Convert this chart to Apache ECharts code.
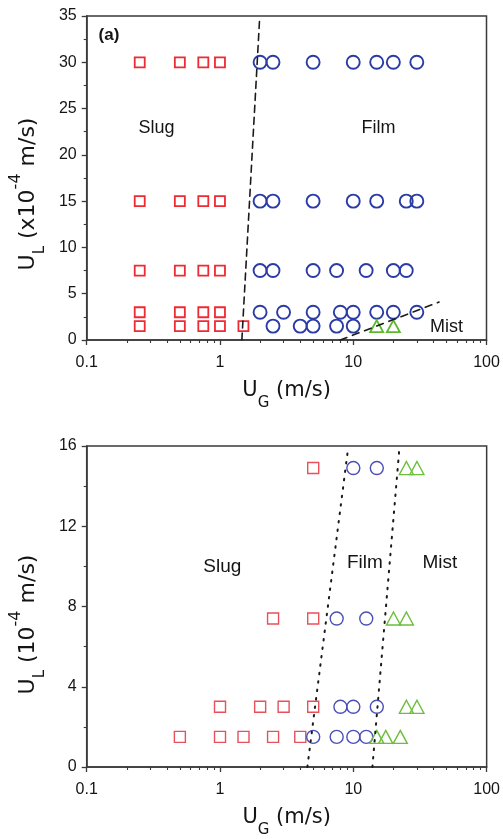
<!DOCTYPE html>
<html>
<head>
<meta charset="utf-8">
<script src="https://cdn.jsdelivr.net/npm/echarts@6/dist/echarts.min.js"></script>
<style>
html,body{margin:0;padding:0;background:#fff;}
#c{width:503px;height:839px;}
</style>
</head>
<body>
<div id="c"></div>
<script>
// ---------- data ----------
const xTickLabels = ['0.1', '1', '10', '100'];
const xMinorTicks = [0.2,0.3,0.4,0.5,0.6,0.7,0.8,0.9,2,3,4,5,6,7,8,9,20,30,40,50,60,70,80,90];

// panel (a)
const topSlug = [
  [0.25,30],[0.5,30],[0.75,30],[1,30],
  [0.25,15],[0.5,15],[0.75,15],[1,15],
  [0.25,7.5],[0.5,7.5],[0.75,7.5],[1,7.5],
  [0.25,3],[0.5,3],[0.75,3],[1,3],
  [0.25,1.5],[0.5,1.5],[0.75,1.5],[1,1.5],[1.5,1.5]
];
const topFilm = [
  [2,30],[2.5,30],[5,30],[10,30],[15,30],[20,30],[30,30],
  [2,15],[2.5,15],[5,15],[10,15],[15,15],[25,15],[30,15],
  [2,7.5],[2.5,7.5],[5,7.5],[7.5,7.5],[12.5,7.5],[20,7.5],[25,7.5],
  [2,3],[3,3],[5,3],[8,3],[10,3],[15,3],[20,3],[30,3],
  [2.5,1.5],[4,1.5],[5,1.5],[7.5,1.5],[10,1.5]
];
const topMist = [[15,1.5],[20,1.5]];
const topBoundarySlugFilm = [[1.46,0],[1.98,34.5]];
const topBoundaryFilmMist = [[8,0],[44,4.1]];
const topRegionLabels = [[0.334,22.9,'Slug'],[15.5,22.9,'Film'],[50,1.4,'Mist']];
const topPanelLabel = [[0.147,32.9,'(a)']];

// panel (b)
const botSlug = [
  [5,14.9],
  [2.5,7.4],[5,7.4],
  [1,3],[2,3],[3,3],[5,3],
  [0.5,1.5],[1,1.5],[1.5,1.5],[2.5,1.5],[4,1.5]
];
const botFilm = [
  [10,14.9],[15,14.9],
  [7.5,7.4],[12.5,7.4],
  [8,3],[10,3],[15,3],
  [5,1.5],[7.5,1.5],[10,1.5],[12.5,1.5]
];
const botMist = [
  [25,14.9],[30,14.9],
  [20,7.4],[25,7.4],
  [25,3],[30,3],
  [15,1.5],[17.5,1.5],[22.5,1.5]
];
const botBoundarySlugFilm = [[4.52,0],[9.14,15.9]];
const botBoundaryFilmMist = [[13.9,0],[22.1,15.8]];
const botRegionLabels = [[1.04,10.0,'Slug'],[12.2,10.2,'Film'],[44.6,10.2,'Mist']];

// ---------- styles ----------
const FONT = '"Liberation Sans", Arial, sans-serif';
const TFONT = '"DejaVu Sans", sans-serif';
const AXC = '#3a3a3a';
const TXT = '#141414';

function xAxisMain(gridIndex) {
  return {
    type: 'log', logBase: 10, min: 0.1, max: 100, gridIndex,
    name: '{n|U}{sub|G}{n| (m/s)}',
    nameLocation: 'middle', nameGap: 31,
    nameTextStyle: {
      rich: {
        n: {fontSize: 21, fontFamily: TFONT, color: TXT, lineHeight: 40, verticalAlign: 'middle'},
        sub: {fontSize: 15, fontFamily: TFONT, color: TXT, lineHeight: 14, verticalAlign: 'bottom'}
      }
    },
    axisLine: {show: true, onZero: false, lineStyle: {color: AXC, width: 1.5}},
    axisTick: {show: true, inside: false, length: 5, lineStyle: {color: AXC, width: 1.3}},
    minorTick: {show: false},
    splitLine: {show: false},
    axisLabel: {
      margin: 15, fontSize: 16, fontFamily: FONT, color: TXT,
      formatter: function (v) {
        const i = Math.round(Math.log10(v)) + 1;
        return xTickLabels[i] !== undefined ? xTickLabels[i] : '';
      }
    }
  };
}
function xAxisMinor(gridIndex) {
  return {
    type: 'log', logBase: 10, min: 0.1, max: 100, gridIndex,
    position: 'bottom',
    axisLine: {show: false, onZero: false},
    axisTick: {show: true, inside: false, length: 3, customValues: xMinorTicks, lineStyle: {color: AXC, width: 1.1}},
    axisLabel: {show: false},
    splitLine: {show: false}
  };
}
function yAxis(gridIndex, max, interval, nameStr, shift) {
  return {
    type: 'value', min: 0, max, interval, gridIndex,
    name: nameStr,
    nameLocation: 'middle', nameGap: 29,
    nameTextStyle: {
      padding: [0, shift, 0, 0],
      rich: {
        n: {fontSize: 22, fontFamily: TFONT, color: TXT, lineHeight: 40, verticalAlign: 'middle'},
        sub: {fontSize: 15, fontFamily: TFONT, color: TXT, lineHeight: 14, verticalAlign: 'bottom'},
        sup: {fontSize: 16, fontFamily: TFONT, color: TXT, lineHeight: 26, verticalAlign: 'top'}
      }
    },
    axisLine: {show: true, onZero: false, lineStyle: {color: AXC, width: 1.5}},
    axisTick: {show: true, inside: false, length: 5, lineStyle: {color: AXC, width: 1.3}},
    minorTick: {show: true, splitNumber: 2, length: 3, lineStyle: {color: AXC, width: 1.1}},
    splitLine: {show: false},
    axisLabel: {margin: 10, fontSize: 16, fontFamily: FONT, color: TXT}
  };
}
function markers(data, sym, size, color, bw, xi, yi) {
  return {
    type: 'scatter', data, symbol: sym, symbolSize: size,
    xAxisIndex: xi, yAxisIndex: yi, z: 3,
    itemStyle: {color: 'rgba(255,255,255,0)', borderColor: color, borderWidth: bw, opacity: 1},
    emphasis: {disabled: true}, silent: true
  };
}
function boundary(data, dash, width, xi, yi) {
  return {
    type: 'line', data, xAxisIndex: xi, yAxisIndex: yi, symbol: 'none', z: 4,
    lineStyle: {color: '#1a1a1a', width, type: dash, cap: 'round', opacity: 1},
    silent: true
  };
}
function labels(data, size, weight, xi, yi) {
  return {
    type: 'scatter', data, symbolSize: 0, xAxisIndex: xi, yAxisIndex: yi, z: 5, silent: true,
    itemStyle: {opacity: 1},
    label: {
      show: true, position: 'inside', formatter: p => p.data[2],
      fontSize: size, fontWeight: weight, fontFamily: FONT, color: TXT, opacity: 1
    }
  };
}

const chart = echarts.init(document.getElementById('c'), null, {renderer: 'canvas'});
chart.setOption({
  animation: false,
  backgroundColor: '#fff',
  grid: [
    {left: 85, top: 16, width: 401.5, height: 324, show: true, borderColor: AXC, borderWidth: 1.5, backgroundColor: 'transparent', containLabel: false},
    {left: 85, top: 446, width: 403.5, height: 324, show: true, borderColor: AXC, borderWidth: 1.5, backgroundColor: 'transparent', containLabel: false}
  ],
  xAxis: [xAxisMain(0), xAxisMain(1), xAxisMinor(0), xAxisMinor(1)],
  yAxis: [
    yAxis(0, 35, 5, '{n|U}{sub|L}{n| (x10}{sup|-4}{n| m/s)}', 32),
    yAxis(1, 16, 4, '{n|U}{sub|L}{n| (10}{sup|-4}{n| m/s)}', 36)
  ],
  series: [
    markers(topSlug, 'rect', 10, '#ee2a33', 1.8, 0, 0),
    markers(topFilm, 'circle', 13, '#2b3ba6', 1.9, 0, 0),
    markers(topMist, 'triangle', [13, 12], '#5cb82e', 1.8, 0, 0),
    boundary(topBoundarySlugFilm, [7, 5], 1.6, 0, 0),
    boundary(topBoundaryFilmMist, [7, 6], 1.6, 0, 0),
    labels(topRegionLabels, 18, 'normal', 0, 0),
    labels(topPanelLabel, 17, 'bold', 0, 0),

    markers(botSlug, 'rect', 11, '#e8505a', 1.4, 1, 1),
    markers(botFilm, 'circle', 13, '#4a50b8', 1.4, 1, 1),
    markers(botMist, 'triangle', [14, 13], '#6cbf3c', 1.4, 1, 1),
    boundary(botBoundarySlugFilm, [1.5, 7], 2, 1, 1),
    boundary(botBoundaryFilmMist, [1.5, 7], 2, 1, 1),
    labels(botRegionLabels, 19, 'normal', 1, 1)
  ]
});
</script>
</body>
</html>
